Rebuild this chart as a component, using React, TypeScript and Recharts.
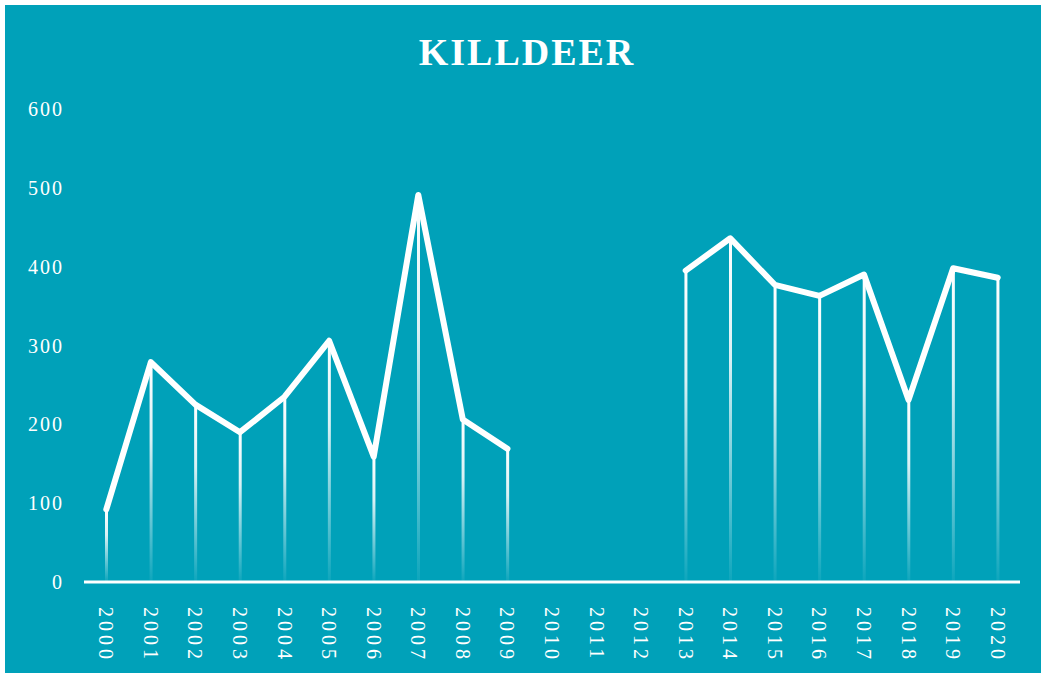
import React from "react"
import { ComposedChart, Line, Bar, XAxis, YAxis } from "recharts"

const years = [
	"2000", "2001", "2002", "2003", "2004", "2005", "2006", "2007", "2008", "2009", "2010",
	"2011", "2012", "2013", "2014", "2015", "2016", "2017", "2018", "2019", "2020",
]
const counts: (number | null)[] = [
	92, 279, 225, 190, 235, 306, 159, 491, 206, 169, null,
	null, null, 395, 436, 377, 363, 390, 231, 398, 386,
]
const yTicks = [0, 100, 200, 300, 400, 500, 600]

const data = years.map((year, i) => ({ year, count: counts[i] }))

const FONT = "'Liberation Serif', 'DejaVu Serif', serif"

const YearTick = (props: any) => {
	const { x, y, payload } = props
	return (
		<text
			x={x}
			y={y + 17}
			transform={`rotate(90, ${x}, ${y + 17})`}
			textAnchor='start'
			dominantBaseline='central'
			fill='#ffffff'
			fontFamily={FONT}
			fontSize={20}
			letterSpacing={4}>
			{payload.value}
		</text>
	)
}

const App = () => {
	return (
		<div
			style={{
				position: "absolute",
				left: 5,
				top: 5,
				width: 1036,
				height: 668,
				background: "#00A1B9",
			}}>
			<div
				style={{
					position: "absolute",
					top: 25,
					left: 4,
					width: "100%",
					textAlign: "center",
					color: "#ffffff",
					fontFamily: FONT,
					fontWeight: "bold",
					fontSize: 38,
					letterSpacing: 2,
				}}>
				KILLDEER
			</div>
			<ComposedChart
				width={1036}
				height={668}
				data={data}
				margin={{ top: 104, right: 21, left: 0, bottom: 0 }}>
				<defs>
					<linearGradient id='dropFade' x1='0' y1='0' x2='0' y2='1'>
						<stop offset='0%' stopColor='#ffffff' stopOpacity={1} />
						<stop offset='35%' stopColor='#ffffff' stopOpacity={0.85} />
						<stop offset='100%' stopColor='#ffffff' stopOpacity={0.05} />
					</linearGradient>
				</defs>
				<XAxis
					dataKey='year'
					interval={0}
					height={91}
					axisLine={{ stroke: "#ffffff", strokeWidth: 3 }}
					tickLine={false}
					tick={<YearTick />}
				/>
				<YAxis
					width={79}
					domain={[0, 600]}
					ticks={yTicks}
					axisLine={false}
					tickLine={false}
					tickSize={0}
					tickMargin={20}
					tick={{ fill: "#ffffff", fontFamily: FONT, fontSize: 20, letterSpacing: 2 }}
				/>
				<Bar dataKey='count' barSize={3} fill='url(#dropFade)' isAnimationActive={false} />
				<Line
					type='linear'
					dataKey='count'
					stroke='#ffffff'
					strokeWidth={6}
					strokeLinecap='round'
					strokeLinejoin='round'
					dot={false}
					activeDot={false}
					isAnimationActive={false}
				/>
			</ComposedChart>
		</div>
	)
}

export default App
